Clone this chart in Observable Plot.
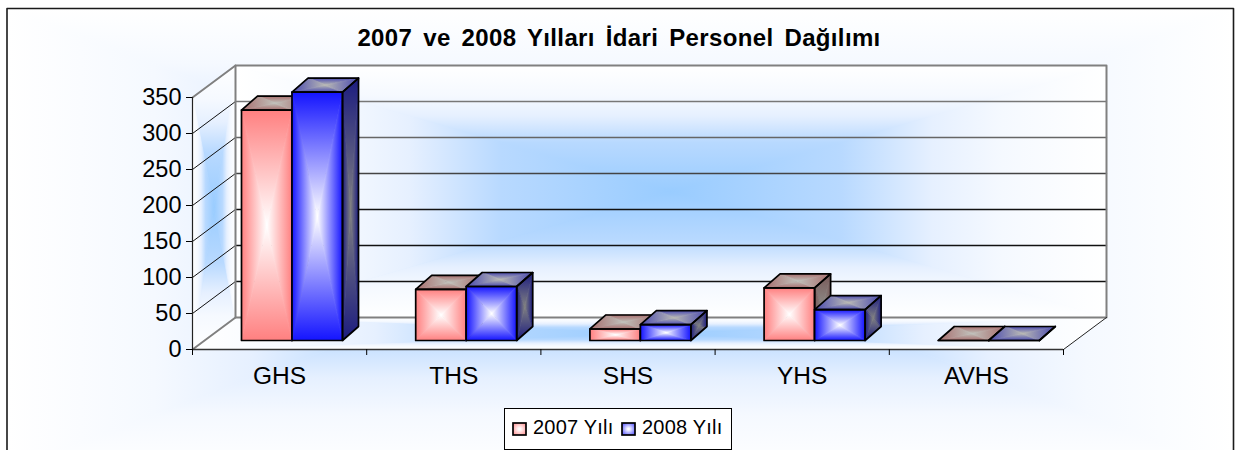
<!DOCTYPE html>
<html>
<head>
<meta charset="utf-8">
<script src="https://cdn.jsdelivr.net/npm/d3@7"></script>
<script src="https://cdn.jsdelivr.net/npm/@observablehq/plot@0.6"></script>
<style>
  html, body { margin: 0; padding: 0; background: #fff; overflow: hidden; }
  #wrap { position: relative; width: 1240px; height: 450px; font-family: "Liberation Sans", Arial, sans-serif; color: #000; }
  #title { position: absolute; left: 0; width: 1238px; top: 25px; text-align: center; font-weight: bold; font-size: 24px; line-height: 26px; letter-spacing: 0.35px; word-spacing: 4px; white-space: nowrap; }
  #legend { position: absolute; left: 504px; top: 408px; width: 226px; height: 40px; box-sizing: content-box; border: 1px solid #000; background: #fff; font-size: 20px; }
  #legend span.t { position: absolute; top: 6px; line-height: 24px; white-space: nowrap; letter-spacing: 0.2px; }
  #legend svg { position: absolute; top: 13px; }
</style>
</head>
<body>
<div id="wrap">
  <div id="chart"></div>
  <div id="title"></div>
  <div id="legend"></div>
</div>
<script>
const chartTitle = "2007 ve 2008 Yılları İdari Personel Dağılımı";
const categories = ["GHS", "THS", "SHS", "YHS", "AVHS"];
const seriesNames = ["2007 Yılı", "2008 Yılı"];
const values2007 = [320, 71, 16, 73, 0];
const values2008 = [345, 75, 22, 43, 0];
const yTicks = [0, 50, 100, 150, 200, 250, 300, 350];
const gridColors = {50: "#111", 100: "#111", 150: "#111", 200: "#444", 250: "#666", 300: "#777"};

// palette: face name -> gradient stops from the face's edge to its centre
const palette = {
  wall: [[0, "#ffffff"], [0.24, "#f5f9ff"], [0.4, "#e6f0ff"], [0.61, "#b8d9ff"], [1, "#99ccff"]],
  pinkFront: [[0, "#ff8080"], [1, "#ffffff"]],
  pinkTop: [[0, "#a86e6e"], [1, "#c0c0ba"]],
  pinkSide: [[0, "#7a5a5a"], [1, "#8c8c88"]],
  blueFront: [[0, "#1414ff"], [1, "#ffffff"]],
  blueTop: [[0, "#4a4ab0"], [1, "#b8b8b4"]],
  blueSide: [[0, "#1c1c80"], [1, "#808080"]]
};

// chart geometry in data units (x: category widths, y: value units)
const wallDx = 43 / 174.2, wallDy = 32 / 0.72;
const barStart = 49 / 174.2, barWidth = 50.5 / 174.2;
const barBase = 12.5, barDx = 16 / 174.2, barDy = 14 / 0.72;
const X = (px) => (px - 192) / 174.2, Y = (py) => (349 - py) / 0.72;

let uid = 0;
// a quad [a,b,c,d] (bottom-left, bottom-right, top-right, top-left) filled like a rectangular path gradient
function gradientQuad(q, name) {
  const c = [d3.mean(q, (p) => p[0]), d3.mean(q, (p) => p[1])];
  const rows = [];
  const tri = (p1, p2, dir) => {
    const id = uid++;
    for (const p of [p1, p2, c]) rows.push({id, x: p[0], y: p[1], fill: `url(#${name}-${dir})`});
  };
  tri(q[0], q[1], "b"); tri(q[1], q[2], "r"); tri(q[2], q[3], "t"); tri(q[3], q[0], "l");
  return rows;
}
function plain(q) {
  const id = uid++;
  return q.map((p) => ({id, x: p[0], y: p[1]}));
}
function faceMarks(quads) {
  const tris = quads.flatMap(({q, name}) => gradientQuad(q, name));
  return Plot.line(tris, {x: "x", y: "y", z: "id", fill: "fill", stroke: "fill", strokeWidth: 0.8, curve: "linear-closed"});
}
const outline = (q, stroke, strokeWidth) => Plot.line(plain(q), {x: "x", y: "y", z: "id", stroke, strokeWidth, curve: "linear-closed"});

function barMarks(values, seriesIndex, prefix) {
  const quads = [], outlines = [];
  values.forEach((v, i) => {
    const x0 = i + barStart + seriesIndex * barWidth, x1 = x0 + barWidth;
    const y0 = barBase, y1 = barBase + v;
    const front = [[x0, y0], [x1, y0], [x1, y1], [x0, y1]];
    const top = [[x0, y1], [x1, y1], [x1 + barDx, y1 + barDy], [x0 + barDx, y1 + barDy]];
    const side = [[x1, y0], [x1 + barDx, y0 + barDy], [x1 + barDx, y1 + barDy], [x1, y1]];
    quads.push({q: side, name: prefix + "Side"}, {q: top, name: prefix + "Top"}, {q: front, name: prefix + "Front"});
    outlines.push(side, top, front);
  });
  const edge = outlines.flatMap((q) => plain(q));
  return [faceMarks(quads), Plot.line(edge, {x: "x", y: "y", z: "id", stroke: "#000", strokeWidth: 1.7, curve: "linear-closed"})];
}

function defsMark() {
  const g = document.createElementNS("http://www.w3.org/2000/svg", "g");
  let s = "<defs>";
  const dirs = {l: [0, 0, 1, 0], r: [1, 0, 0, 0], t: [0, 0, 0, 1], b: [0, 1, 0, 0]};
  for (const [name, stops] of Object.entries(palette)) {
    const st = stops.map(([o, c]) => `<stop offset="${o}" stop-color="${c}"/>`).join("");
    for (const [d, [x1, y1, x2, y2]] of Object.entries(dirs)) {
      s += `<linearGradient id="${name}-${d}" x1="${x1}" y1="${y1}" x2="${x2}" y2="${y2}">${st}</linearGradient>`;
    }
  }
  g.innerHTML = s + "</defs>";
  return g;
}

// panels: chart area, left wall, back wall, floor
const outer = [[X(6.5), Y(470)], [X(1233), Y(470)], [X(1233), Y(8)], [X(6.5), Y(8)]];
const backWall = [[wallDx, wallDy], [5 + wallDx, wallDy], [5 + wallDx, 350 + wallDy], [wallDx, 350 + wallDy]];
const leftWall = [[0, 0], [wallDx, wallDy], [wallDx, 350 + wallDy], [0, 350]];
const floor = [[0, 0], [5, 0], [5 + wallDx, wallDy], [wallDx, wallDy]];

const gridRows = yTicks.slice(1, -1).flatMap((v) => [
  {v, x: wallDx, y: v + wallDy, stroke: gridColors[v]}, {v, x: 5 + wallDx, y: v + wallDy, stroke: gridColors[v]}
]);
const gridDiagonals = yTicks.slice(1, -1).flatMap((v) => [
  {v, x: 0, y: v}, {v, x: wallDx, y: v + wallDy}
]);

const chart = Plot.plot({
  width: 1240,
  height: 450,
  marginLeft: 192,
  marginRight: 177,
  marginTop: 97,
  marginBottom: 101,
  x: {domain: [0, 5]},
  y: {domain: [0, 350]},
  color: {type: "identity"},
  style: {fontFamily: "'Liberation Sans', Arial, sans-serif", color: "#000", background: "#fff", overflow: "hidden"},
  marks: [
    defsMark,
    faceMarks([{q: outer, name: "wall"}]),
    Plot.line(plain(outer), {x: "x", y: "y", z: "id", stroke: "#fff", strokeWidth: 3, curve: "linear-closed"}),
    faceMarks([{q: backWall, name: "wall"}, {q: leftWall, name: "wall"}, {q: floor, name: "wall"}]),
    // chart-area frame
    outline(outer, "#1a1a1a", 1.6),
    // gridlines
    Plot.line(gridRows, {x: "x", y: "y", z: "v", stroke: "stroke", strokeWidth: 1.3}),
    Plot.line(gridDiagonals, {x: "x", y: "y", z: "v", stroke: "#111", strokeWidth: 1}),
    // wall edges
    outline(backWall, "#808080", 2),
    Plot.line([[0, 350], [wallDx, 350 + wallDy]], {stroke: "#808080", strokeWidth: 2}),
    Plot.line([[0, 0], [wallDx, wallDy]], {stroke: "#808080", strokeWidth: 2}),
    Plot.line([[5, 0], [5 + wallDx, wallDy]], {stroke: "#222", strokeWidth: 1}),
    // bars
    ...barMarks(values2007, 0, "pink"),
    ...barMarks(values2008, 1, "blue"),
    // axes
    Plot.ruleX([0], {stroke: "#222", strokeWidth: 1.2}),
    Plot.ruleY([0], {stroke: "#333", strokeWidth: 1.5}),
    Plot.axisY({ticks: yTicks, tickSize: 6, tickPadding: 5, fontSize: 23.5, label: null, tickFormat: (d) => `${d}`}),
    Plot.axisX({ticks: d3.range(0, 6), tickSize: 6, tickFormat: () => "", label: null}),
    Plot.axisX({ticks: categories.map((c, i) => i + 0.5), tickSize: 0, tickPadding: 17.5, fontSize: 24.5, label: null, tickFormat: (d) => categories[Math.floor(d)]})
  ]
});
document.getElementById("chart").appendChild(chart);
document.getElementById("title").textContent = chartTitle;

// legend
const swatchEdges = ["#ff9090", "#5050ff"];
const legend = document.getElementById("legend");
const lx = [[7, 28], [116, 137]];
seriesNames.forEach((name, i) => {
  const [sw, tx] = lx[i];
  const id = `sw${i}`;
  legend.insertAdjacentHTML("beforeend",
    `<svg style="left:${sw}px" width="15" height="14"><defs><radialGradient id="${id}" r="0.65"><stop offset="0.1" stop-color="#fff"/><stop offset="1" stop-color="${swatchEdges[i]}"/></radialGradient></defs><rect x="1" y="1" width="13" height="12" fill="url(#${id})" stroke="#000" stroke-width="1.7"/></svg>` +
    `<span class="t" style="left:${tx}px">${name}</span>`);
});
</script>
</body>
</html>
